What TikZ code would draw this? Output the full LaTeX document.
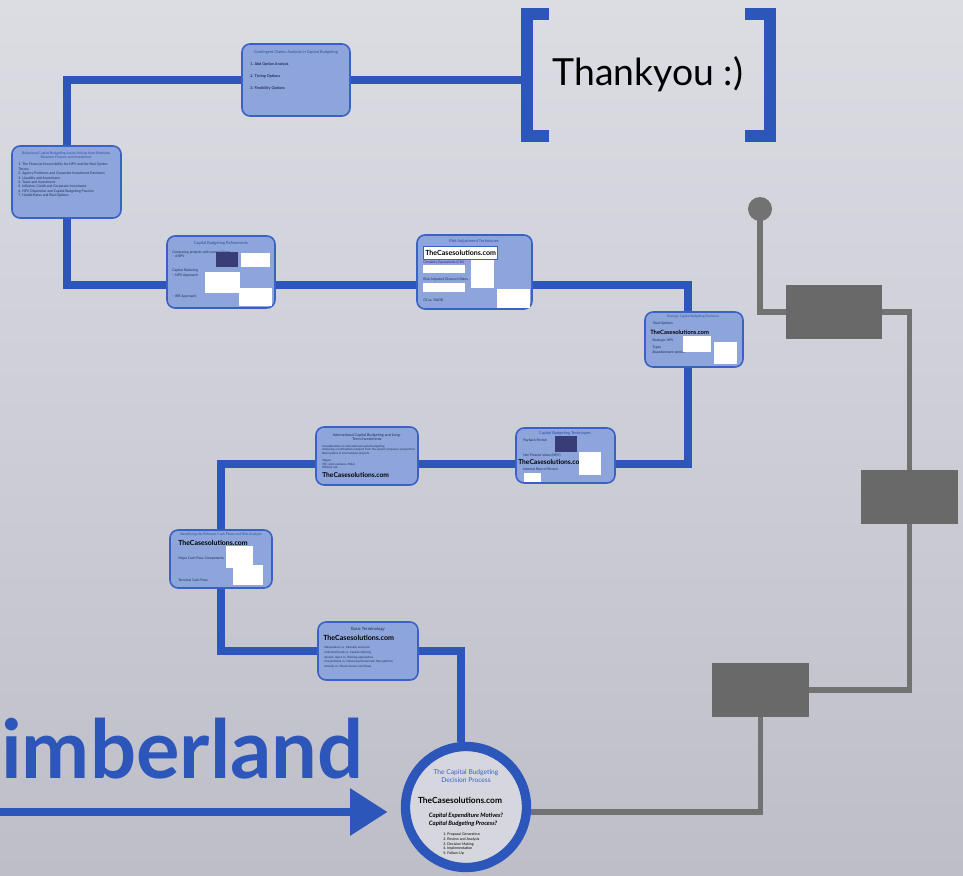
\documentclass[tikz,border=0pt]{standalone}
\usepackage{fontspec}
\setmainfont{Lato}
\usetikzlibrary{arrows.meta,fit,calc}
\definecolor{pblue}{HTML}{2C56BA}
\definecolor{bfill}{HTML}{8EA5DC}
\definecolor{bedge}{HTML}{3A62C6}
\definecolor{gline}{HTML}{727272}
\definecolor{navy}{HTML}{1F2A5C}
\definecolor{darkimg}{HTML}{383D78}
\definecolor{cfill}{HTML}{D6D7DE}
\definecolor{bgtop}{HTML}{DCDDE3}
\definecolor{bgbot}{HTML}{BDBEC8}
\pgfdeclarelayer{bg}\pgfdeclarelayer{lines}\pgfsetlayers{bg,lines,main}
\begin{document}
\begin{tikzpicture}[x=0.75pt,y=-0.75pt,
  slide/.style={draw=bedge, line width=1.2pt, fill=bfill, rounded corners=6pt, inner sep=0pt},
  ttl/.style={text=bedge!80!black, font=\fontsize{3}{3.6}\selectfont, align=center, inner sep=0pt},
  txt/.style={text=navy, font=\fontsize{2.6}{3.3}\selectfont, anchor=west, inner sep=0pt, align=left},
  site/.style={text=black, font=\bfseries\fontsize{5}{6}\selectfont, anchor=west, inner sep=0pt},
  img/.style={fill=white, draw=none, inner sep=0pt},
  dimg/.style={fill=darkimg, draw=none, inner sep=0pt},
  bpath/.style={draw=pblue, line width=6pt},
  gpath/.style={draw=gline, line width=3.8pt},
  gbox/.style={fill=gline!92!black, draw=none, inner sep=0pt},
]
\useasboundingbox (0,0) rectangle (963,875);
\begin{pgfonlayer}{bg}
\fill[top color=bgtop, bottom color=bgbot] (0,0) rectangle (963,875);
\end{pgfonlayer}

% ---- slides ----
\node[slide, fit={(242,44)(350,116)}] (b1) {};
\node[ttl] (b1t) at (296,52) {Contingent Claims Analysis in Capital Budgeting};
\node[txt, font=\bfseries\fontsize{2.8}{3.4}\selectfont] (b1a) at (250,64) {1. Abd Option Analysis};
\node[txt, font=\bfseries\fontsize{2.8}{3.4}\selectfont] (b1b) at (250,76) {2. Timing Options};
\node[txt, font=\bfseries\fontsize{2.8}{3.4}\selectfont] (b1c) at (250,88) {3. Flexibility Options};

\node[slide, fit={(12,146)(121,218)}] (b2) {};
\node[ttl, font=\fontsize{2.6}{3.2}\selectfont] (b2t) at (66,155) {Behavioral Capital Budgeting Issues Arising from Relations\\Between Finance and Investment};
\node[txt, anchor=north west] (b2a) at (18,163) {1. The Financial Irreversibility for NPV and the Real Option\\Theory\\2. Agency Problems and Corporate Investment Decisions\\3. Liquidity and Investment\\4. Taxes and Investment\\5. Inflation, Credit and Corporate Investment\\6. NPV Dispersion and Capital Budgeting Practice\\7. Hurdle Rates and Real Options};

\node[slide, fit={(167,236)(275,308)}] (b3) {};
\node[ttl] (b3t) at (221,243) {Capital Budgeting Refinements};
\node[txt] (b3a) at (172,254) {Comparing projects with unequal lives\\ -- ANPV};
\node[txt] (b3b) at (172,273) {Capital Rationing\\ -- NPV Approach};
\node[txt] (b3c) at (172,297) {-- IRR Approach};
\node[dimg, fit={(216,252)(238,267)}] (b3i1) {};
\node[img, fit={(241,253)(270,267)}] (b3i2) {};
\node[img, fit={(205,272)(240,293)}] (b3i3) {};
\node[img, fit={(239,288)(272,306)}] (b3i4) {};

\node[slide, fit={(417,235)(532,309)}] (b4) {};
\node[ttl] (b4t) at (474,241) {Risk Adjustment Techniques};
\node[img, draw=bedge, line width=0.4pt, fit={(423,246)(497,259)}] (b4s) {};
\node[site, font=\bfseries\fontsize{5.3}{6}\selectfont] (b4st) at (425,252.5) {TheCasesolutions.com};
\node[txt] (b4a) at (423,262) {Certainty Equivalents (CEs)};
\node[img, fit={(423,265)(465,273)}] (b4i1) {};
\node[txt] (b4b) at (423,280) {Risk-Adjusted Discount Rates};
\node[img, fit={(423,283)(465,292)}] (b4i2) {};
\node[txt] (b4c) at (423,300) {CE vs. RADR};
\node[img, fit={(471,260)(494,288)}] (b4i3) {};
\node[img, fit={(497,289)(530,308)}] (b4i4) {};

\node[slide, fit={(645,312)(743,367)}] (b5) {};
\node[ttl, font=\fontsize{2.4}{3}\selectfont] (b5t) at (693,317) {Strategic Capital Budgeting Decisions};
\node[txt] (b5a) at (653,324) {Real Options};
\node[site, font=\bfseries\fontsize{4.4}{5}\selectfont] (b5s) at (650,332) {TheCasesolutions.com};
\node[txt] (b5b) at (652,341) {Strategic NPV};
\node[txt] (b5c) at (652,350) {Types\\Abandonment option};
\node[img, fit={(683,336)(711,352)}] (b5i1) {};
\node[img, fit={(714,342)(737,364)}] (b5i2) {};

\node[slide, fit={(316,427)(418,485)}] (b6) {};
\node[ttl, text=navy, font=\fontsize{2.8}{3.4}\selectfont] (b6t) at (367,437) {International Capital Budgeting and Long-\\Term Investments};
\node[txt, font=\fontsize{2.2}{2.8}\selectfont] (b6a) at (322,450) {Considerations in international capital budgeting\\Analysing a multinational project from the parent company's perspective\\Real options in international projects};
\node[txt, font=\fontsize{2.2}{2.8}\selectfont] (b6b) at (322,464) {Stages:\\FDI, Joint ventures, M\&A\\Political risk};
\node[site] (b6s) at (322,475) {TheCasesolutions.com};

\node[slide, fit={(516,428)(615,483)}] (b7) {};
\node[ttl] (b7t) at (565,433) {Capital Budgeting Techniques};
\node[txt] (b7a) at (523,441) {Payback Period};
\node[dimg, fit={(555,436)(577,452)}] (b7i1) {};
\node[txt] (b7b) at (523,455) {Net Present Value (NPV)};
\node[site] (b7s) at (518,462) {TheCasesolutions.com};
\node[txt] (b7c) at (523,469) {Internal Rate of Return};
\node[img, fit={(579,452)(601,475)}] (b7i2) {};
\node[img, fit={(524,473)(541,482)}] (b7i3) {};

\node[slide, fit={(170,530)(272,588)}] (b8) {};
\node[ttl, font=\fontsize{2.6}{3.2}\selectfont] (b8t) at (221,535) {Identifying the Relevant Cash Flows and Risk Analysis};
\node[site, font=\bfseries\fontsize{5.2}{6}\selectfont] (b8s) at (178,543) {TheCasesolutions.com};
\node[txt] (b8a) at (178,559) {Major Cash Flow Components};
\node[txt] (b8b) at (178,580) {Terminal Cash Flow};
\node[img, fit={(226,546)(253,568)}] (b8i1) {};
\node[img, fit={(233,565)(263,585)}] (b8i2) {};

\node[slide, fit={(318,622)(418,680)}] (b9) {};
\node[ttl, text=navy, font=\fontsize{3.2}{3.8}\selectfont] (b9t) at (368,629) {Basic Terminology};
\node[site, font=\bfseries\fontsize{5.3}{6}\selectfont] (b9s) at (323,638) {TheCasesolutions.com};
\node[txt, font=\fontsize{2.2}{3.6}\selectfont, anchor=north west] (b9a) at (324,646) {Independent vs. Mutually exclusive\\Unlimited funds vs. Capital rationing\\Accept--reject vs. Ranking approaches\\Conventional vs. Nonconventional cash flow patterns\\Annuity vs. Mixed stream cash flows};

% ---- process circle ----
\node[circle, draw=pblue, line width=7pt, fill=cfill, minimum size=121*0.75pt, inner sep=0pt] (proc) at (466,807) {};
\node[text=bedge, font=\fontsize{5}{6}\selectfont, align=center, inner sep=0pt] (pt) at (466,776) {The Capital Budgeting\\Decision Process};
\node[font=\bfseries\fontsize{6.3}{7}\selectfont, inner sep=0pt] (ps) at (460,800) {TheCasesolutions.com};
\node[font=\bfseries\itshape\fontsize{4.5}{5.6}\selectfont, align=left, inner sep=0pt] (pq) at (466,820) {Capital Expenditure Motives?\\Capital Budgeting Process?};
\node[font=\fontsize{2.7}{3.4}\selectfont, align=left, anchor=north west, inner sep=0pt] (pl) at (443,833) {1. Proposal Generation\\2. Review and Analysis\\3. Decision Making\\4. Implementation\\5. Follow-Up};

% ---- brackets and thanks ----
\coordinate (brk) at (527,80);
\draw[pblue, line width=8.5pt] (549,14) -- (527,14) -- (527,136) -- (549,136);
\draw[pblue, line width=8.5pt] (745,14) -- (770,14) -- (770,136) -- (745,136);
\node[font=\fontsize{28}{32}\selectfont, inner sep=0pt] (thx) at (648,74) {Thankyou :)};

% ---- title and arrow ----
\node[text=pblue, font=\bfseries\fontsize{61}{68}\selectfont, anchor=base west, inner sep=0pt] (tim) at (1,778) {imberland};
\coordinate (astart) at (0,812);

% ---- gray track ----
\node[circle, fill=gline, minimum size=24*0.75pt, inner sep=0pt] (dot) at (760,209) {};
\node[gbox, fit={(786,285)(882,339)}] (g1) {};
\node[gbox, fit={(861,470)(958,524)}] (g2) {};
\node[gbox, fit={(712,663)(809,717)}] (g3) {};

\begin{pgfonlayer}{lines}
\draw[bpath] (b1.east) -- (brk);
\draw[bpath] (b1.west) -| (b2.north);
\draw[bpath] (b2.south) |- (b3.west |- 0,285);
\draw[bpath] (b3.east |- 0,285) -- (b4.west |- 0,285);
\draw[bpath] (b4.east |- 0,285) -| ([xshift=-4.5pt]b5.north);
\draw[bpath] ([xshift=-4.5pt]b5.south) |- (b7.east |- 0,464);
\draw[bpath] (b7.west |- 0,464) -- (b6.east |- 0,464);
\draw[bpath] (b6.west |- 0,464) -| (b8.north);
\draw[bpath] (b8.south) |- (b9.west |- 0,651);
\draw[bpath] (b9.east |- 0,651) -| ([xshift=-3.75pt]proc.north);
\draw[pblue, line width=6pt, -{Triangle[length=28pt,width=34pt]}, shorten >=10pt] (astart) -- (proc.west |- astart);
\draw[gpath] (dot.center) |- (g1.west);
\draw[gpath] (g1.east) -| (g2.north);
\draw[gpath] (g2.south) |- (g3.east);
\draw[gpath] (g3.south) |- (proc.east |- astart);
\end{pgfonlayer}
\end{tikzpicture}
\end{document}
